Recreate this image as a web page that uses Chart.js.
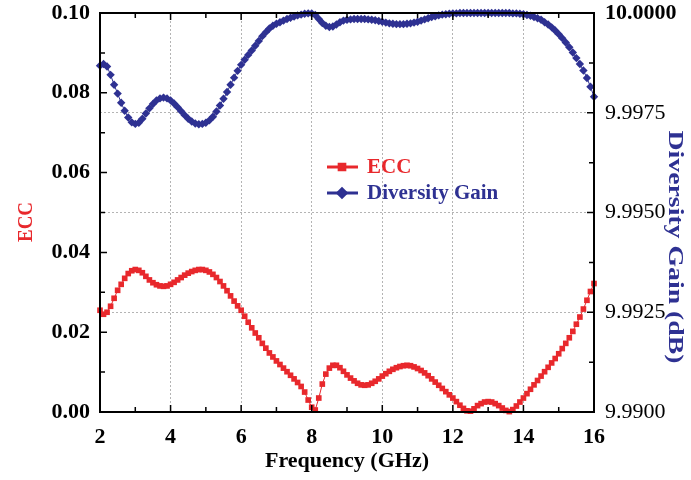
<!DOCTYPE html>
<html>
<head>
<meta charset="utf-8">
<script src="https://cdn.jsdelivr.net/npm/chart.js@4/dist/chart.umd.min.js"></script>
<style>
  html, body { margin: 0; padding: 0; background: #fff; }
  #wrap { width: 691px; height: 480px; }
</style>
</head>
<body>
<div id="wrap"><canvas id="myChart" width="691" height="480"></canvas></div>
<script>
// Frequency points (GHz)
const freq = [
  2.0, 2.1, 2.2, 2.3, 2.4, 2.5, 2.6, 2.7, 2.8, 2.9,
  3.0, 3.1, 3.2, 3.3, 3.4, 3.5, 3.6, 3.7, 3.8, 3.9,
  4.0, 4.1, 4.2, 4.3, 4.4, 4.5, 4.6, 4.7, 4.8, 4.9,
  5.0, 5.1, 5.2, 5.3, 5.4, 5.5, 5.6, 5.7, 5.8, 5.9,
  6.0, 6.1, 6.2, 6.3, 6.4, 6.5, 6.6, 6.7, 6.8, 6.9,
  7.0, 7.1, 7.2, 7.3, 7.4, 7.5, 7.6, 7.7, 7.8, 7.9,
  8.0, 8.1, 8.2, 8.3, 8.4, 8.5, 8.6, 8.7, 8.8, 8.9,
  9.0, 9.1, 9.2, 9.3, 9.4, 9.5, 9.6, 9.7, 9.8, 9.9,
  10.0, 10.1, 10.2, 10.3, 10.4, 10.5, 10.6, 10.7, 10.8, 10.9,
  11.0, 11.1, 11.2, 11.3, 11.4, 11.5, 11.6, 11.7, 11.8, 11.9,
  12.0, 12.1, 12.2, 12.3, 12.4, 12.5, 12.6, 12.7, 12.8, 12.9,
  13.0, 13.1, 13.2, 13.3, 13.4, 13.5, 13.6, 13.7, 13.8, 13.9,
  14.0, 14.1, 14.2, 14.3, 14.4, 14.5, 14.6, 14.7, 14.8, 14.9,
  15.0, 15.1, 15.2, 15.3, 15.4, 15.5, 15.6, 15.7, 15.8, 15.9,
  16.0
];

// ECC
const ecc = [
  0.0255, 0.0245, 0.025, 0.0265, 0.0285, 0.0305, 0.032, 0.0335, 0.0347, 0.0354,
  0.0357, 0.0355, 0.0349, 0.034, 0.0331, 0.0324, 0.0319, 0.0316, 0.0315, 0.0316,
  0.032, 0.0325, 0.0331, 0.0337, 0.0343, 0.0348, 0.0352, 0.0355, 0.0357, 0.0357,
  0.0355, 0.0351, 0.0345, 0.0337, 0.0327, 0.0316, 0.0304, 0.0291, 0.0278, 0.0266,
  0.0255, 0.024, 0.0225, 0.0211, 0.0198, 0.0186, 0.0172, 0.016, 0.0148, 0.0138,
  0.0128, 0.0119, 0.011, 0.0101, 0.0092, 0.0083, 0.0074, 0.0064, 0.005, 0.003,
  0.0012, 0.0005, 0.0035, 0.007, 0.0095, 0.011, 0.0117, 0.0117, 0.0111, 0.0102,
  0.0093, 0.0085, 0.0078, 0.0072, 0.0068, 0.0067, 0.0068, 0.0072, 0.0077, 0.0083,
  0.009, 0.0096, 0.0102, 0.0107, 0.0111, 0.0114, 0.0116, 0.0117, 0.0116, 0.0113,
  0.0109, 0.0104, 0.0098, 0.0091, 0.0083, 0.0075, 0.0067, 0.0059, 0.0051, 0.0043,
  0.0035, 0.0026, 0.0017, 0.0009, 0.0003, 0.0002, 0.0008, 0.0016, 0.0021, 0.0025,
  0.0026, 0.0025, 0.0021, 0.0016, 0.001, 0.0004, 0.0001, 0.0006, 0.0015, 0.0025,
  0.0035, 0.0046, 0.0057, 0.0068, 0.0079, 0.009, 0.0101, 0.0112, 0.0123, 0.0134,
  0.0146, 0.0159, 0.0172, 0.0186, 0.0202, 0.022, 0.0238, 0.0258, 0.028, 0.0302,
  0.0322
];

// Diversity Gain (dB)
const dg = [
  9.99868, 9.99872, 9.99866, 9.99845, 9.9982, 9.99798, 9.99775, 9.99755, 9.99738, 9.99726,
  9.99722, 9.99725, 9.99735, 9.99748, 9.99761, 9.99772, 9.99781, 9.99786, 9.99788, 9.99786,
  9.99781, 9.99773, 9.99764, 9.99754, 9.99744, 9.99735, 9.99728, 9.99723, 9.99721, 9.99722,
  9.99725, 9.99731, 9.9974, 9.99753, 9.99768, 9.99785, 9.99802, 9.9982, 9.99838, 9.99855,
  9.9987, 9.99883, 9.99895, 9.99906, 9.99918, 9.9993, 9.99942, 9.99952, 9.99961, 9.99968,
  9.99973, 9.99977, 9.99981, 9.99985, 9.99988, 9.99991, 9.99994, 9.99996, 9.99998, 9.99999,
  9.99999, 9.99995, 9.99985, 9.99975, 9.99968, 9.99965, 9.99966, 9.99971, 9.99977, 9.99981,
  9.99983, 9.99984, 9.99985, 9.99985, 9.99985, 9.99985, 9.99984, 9.99983, 9.99982, 9.9998,
  9.99978, 9.99976, 9.99974, 9.99973, 9.99972, 9.99972, 9.99972, 9.99973, 9.99974, 9.99976,
  9.99978, 9.99981, 9.99984, 9.99987, 9.9999, 9.99992, 9.99994, 9.99996, 9.99997, 9.99998,
  9.99999, 9.99999, 10, 10, 10, 10, 10, 10, 10, 10,
  10, 10, 10, 10, 10, 10, 10, 9.99999, 9.99999, 9.99998,
  9.99997, 9.99995, 9.99993, 9.9999, 9.99987, 9.99983, 9.99977, 9.99971, 9.99964, 9.99956,
  9.99947, 9.99937, 9.99926, 9.99914, 9.99901, 9.99887, 9.99872, 9.99856, 9.99837, 9.99815,
  9.9979
];

const RED = "#e8282c";
const BLUE = "#2e3192";
const FONT = "'Liberation Serif', 'Times New Roman', serif";

const near = (a, b) => Math.abs(a - b) < 1e-9;
const tickIs = (c, v) => !!(c && c.tick) && near(c.tick.value, v);

// vertical title, optionally stretched along its length
function vTitle(ctx, text, color, size, cx, cy, rot, len) {
  ctx.save();
  ctx.font = "bold " + size + "px " + FONT;
  ctx.fillStyle = color;
  ctx.textAlign = "center";
  ctx.textBaseline = "middle";
  ctx.translate(cx, cy);
  ctx.rotate(rot);
  if (len) ctx.scale(len / ctx.measureText(text).width, 1);
  ctx.fillText(text, 0, 0);
  ctx.restore();
}

// frame, inward ticks, axis titles and the legend box
const framePlugin = {
  id: "frame",
  afterDraw(chart) {
    const { ctx, chartArea: a } = chart;
    const x = chart.scales.x, y = chart.scales.y, y2 = chart.scales.y2;
    ctx.save();
    ctx.strokeStyle = "#000";
    ctx.lineWidth = 2;
    ctx.strokeRect(a.left, a.top, a.right - a.left, a.bottom - a.top);
    ctx.lineWidth = 1.5;
    ctx.beginPath();
    // x ticks, bottom and top
    for (let v = x.min; v <= x.max + 1e-9; v += 1) {
      const px = x.getPixelForValue(v);
      const len = Math.round(v) % 2 === 0 ? 7 : 5;
      ctx.moveTo(px, a.bottom); ctx.lineTo(px, a.bottom - len);
      ctx.moveTo(px, a.top); ctx.lineTo(px, a.top + len);
    }
    // left ticks
    for (let i = 0; i <= 10; i++) {
      const py = y.getPixelForValue(y.min + i * (y.max - y.min) / 10);
      const len = i % 2 === 0 ? 7 : 5;
      ctx.moveTo(a.left, py); ctx.lineTo(a.left + len, py);
    }
    // right ticks
    for (let i = 0; i <= 8; i++) {
      const py = y2.getPixelForValue(y2.min + i * (y2.max - y2.min) / 8);
      const len = i % 2 === 0 ? 7 : 5;
      ctx.moveTo(a.right, py); ctx.lineTo(a.right - len, py);
    }
    ctx.stroke();
    ctx.restore();

    // axis titles
    vTitle(ctx, y.options.title.text, RED, 20, 27, 222, -Math.PI / 2, 40);
    vTitle(ctx, y2.options.title.text, BLUE, 20, 674, 247, Math.PI / 2, 233);

    // legend
    ctx.save();
    const rows = [167, 193];
    chart.data.datasets.forEach((ds, i) => {
      const ly = rows[i];
      ctx.strokeStyle = ds.borderColor;
      ctx.fillStyle = ds.borderColor;
      ctx.lineWidth = 3;
      ctx.beginPath();
      ctx.moveTo(327, ly); ctx.lineTo(358, ly);
      ctx.stroke();
      Chart.helpers.drawPoint(ctx, { pointStyle: ds.pointStyle, radius: ds.pointRadius, borderWidth: 1, rotation: 0 }, 342, ly);
      ctx.fill();
      ctx.font = "bold 21px " + FONT;
      ctx.textBaseline = "middle";
      ctx.textAlign = "left";
      ctx.fillText(ds.label, 367, ly + 1);
    });
    ctx.restore();
  }
};

const tickFont = { family: FONT, size: 22, weight: "bold" };
const gridColor = "#b4b4b4";
const noPad = (s) => { s.paddingTop = 0; s.paddingBottom = 0; };

new Chart(document.getElementById("myChart"), {
  type: "line",
  data: {
    datasets: [
      {
        label: "ECC",
        data: freq.map((f, i) => ({ x: f, y: ecc[i] })),
        yAxisID: "y",
        borderColor: RED,
        backgroundColor: RED,
        borderWidth: 1,
        pointStyle: "rect",
        pointRadius: 4,
        pointBorderWidth: 0,
        clip: false
      },
      {
        label: "Diversity Gain",
        data: freq.map((f, i) => ({ x: f, y: dg[i] })),
        yAxisID: "y2",
        borderColor: BLUE,
        backgroundColor: BLUE,
        borderWidth: 1,
        pointStyle: "rectRot",
        pointRadius: 4.2,
        pointBorderWidth: 0,
        clip: false
      }
    ]
  },
  options: {
    responsive: false,
    animation: false,
    devicePixelRatio: 1,
    layout: { padding: { top: 13, left: 0, right: 0, bottom: 0 } },
    plugins: { legend: { display: false }, tooltip: { enabled: false } },
    scales: {
      x: {
        type: "linear",
        min: 2,
        max: 16,
        afterFit: (s) => { s.height = 68; },
        ticks: { stepSize: 2, color: "#000", font: tickFont, padding: 12 },
        grid: {
          drawTicks: false,
          lineWidth: 1,
          color: (c) => (tickIs(c, 2) || tickIs(c, 16)) ? "transparent" : gridColor
        },
        border: { display: false, dash: [2, 2] },
        title: {
          display: true,
          text: "Frequency (GHz)",
          color: "#000",
          font: { family: FONT, size: 22, weight: "bold" },
          padding: { top: 0, bottom: 5 }
        }
      },
      y: {
        position: "left",
        min: 0,
        max: 0.1,
        afterFit: (s) => { s.width = 100; noPad(s); },
        ticks: { stepSize: 0.02, color: "#000", font: tickFont, padding: 10, callback: (v) => v.toFixed(2) },
        grid: { display: false, drawTicks: false },
        border: { display: false },
        title: { display: false, text: "ECC" }
      },
      y2: {
        position: "right",
        min: 9.99,
        max: 10.0,
        afterFit: (s) => { s.width = 97; noPad(s); },
        ticks: {
          stepSize: 0.0025,
          color: "#000",
          padding: 11,
          font: (c) => ({ family: FONT, size: 22, weight: tickIs(c, 10) ? "bold" : "normal" }),
          callback: (v) => v.toFixed(4)
        },
        grid: {
          drawTicks: false,
          lineWidth: 1,
          color: (c) => (tickIs(c, 9.99) || tickIs(c, 10)) ? "transparent" : gridColor
        },
        border: { display: false, dash: [2, 2] },
        title: { display: false, text: "Diversity Gain (dB)" }
      }
    }
  },
  plugins: [framePlugin]
});
</script>
</body>
</html>
